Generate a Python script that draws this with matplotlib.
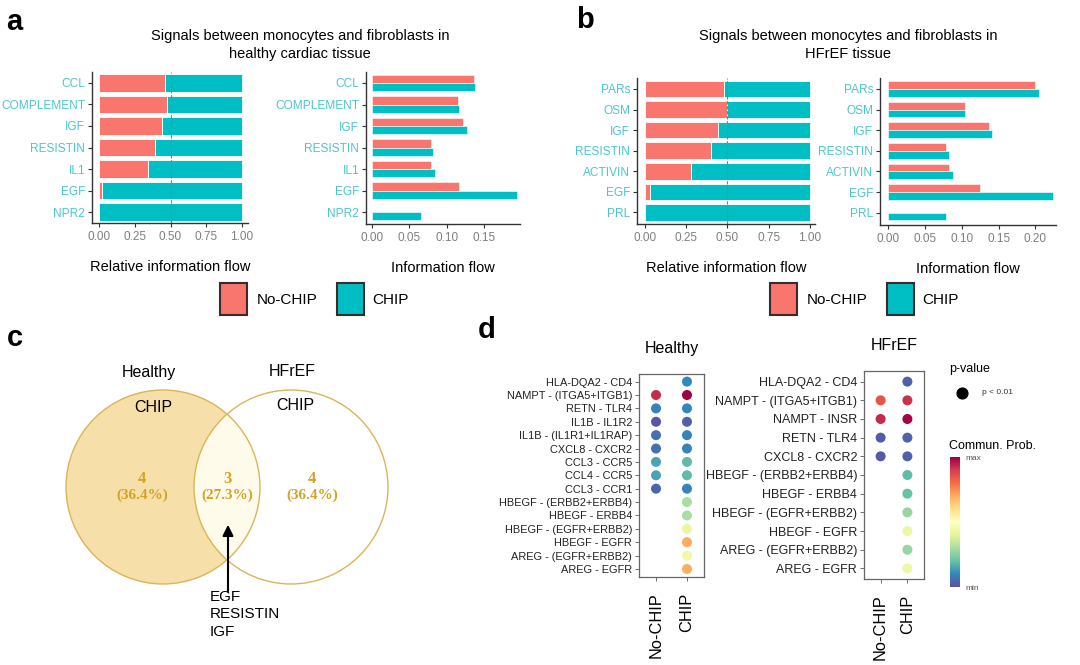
import numpy as np
import matplotlib
matplotlib.use("Agg")
import matplotlib.pyplot as plt
from matplotlib.patches import Circle, Rectangle
from matplotlib.cm import ScalarMappable
from matplotlib.colors import Normalize

plt.rcParams['font.family'] = ['Liberation Sans', 'DejaVu Sans']

W, H = 1080, 665
RED = '#F8766D'
CYAN = '#00BFC4'
TICK_CYAN = '#4CC6CC'

# ---- panel a / b data ----
cats_a = ['CCL', 'COMPLEMENT', 'IGF', 'RESISTIN', 'IL1', 'EGF', 'NPR2']
rel_a = [0.465, 0.479, 0.442, 0.395, 0.344, 0.023, 0.0]
flow_a_nochip = [0.136, 0.115, 0.122, 0.079, 0.079, 0.117, 0.0]
flow_a_chip = [0.138, 0.117, 0.127, 0.081, 0.084, 0.194, 0.066]

cats_b = ['PARs', 'OSM', 'IGF', 'RESISTIN', 'ACTIVIN', 'EGF', 'PRL']
rel_b = [0.481, 0.495, 0.440, 0.400, 0.279, 0.030, 0.0]
flow_b_nochip = [0.200, 0.104, 0.137, 0.079, 0.082, 0.124, 0.0]
flow_b_chip = [0.2045, 0.104, 0.1416, 0.082, 0.088, 0.224, 0.079]

# ---- panel c data ----
venn_sets = ['Healthy', 'HFrEF']
venn_counts = [4, 3, 4]   # only healthy, shared, only HFrEF
shared_signals = ['EGF', 'RESISTIN', 'IGF']

# ---- panel d data (communication probability, scaled 0..1) ----
rows_healthy = ['HLA-DQA2 - CD4', 'NAMPT - (ITGA5+ITGB1)', 'RETN - TLR4', 'IL1B - IL1R2',
                'IL1B - (IL1R1+IL1RAP)', 'CXCL8 - CXCR2', 'CCL3 - CCR5', 'CCL4 - CCR5',
                'CCL3 - CCR1', 'HBEGF - (ERBB2+ERBB4)', 'HBEGF - ERBB4', 'HBEGF - (EGFR+ERBB2)',
                'HBEGF - EGFR', 'AREG - (EGFR+ERBB2)', 'AREG - EGFR']
healthy_nochip = [np.nan, 0.93, 0.09, 0.01, 0.06, 0.06, 0.15, 0.15, 0.04,
                  np.nan, np.nan, np.nan, np.nan, np.nan, np.nan]
healthy_chip = [0.10, 1.00, 0.10, 0.03, 0.09, 0.09, 0.19, 0.19, 0.09,
                0.30, 0.30, 0.42, 0.70, 0.44, 0.70]

rows_hfref = ['HLA-DQA2 - CD4', 'NAMPT - (ITGA5+ITGB1)', 'NAMPT - INSR', 'RETN - TLR4',
              'CXCL8 - CXCR2', 'HBEGF - (ERBB2+ERBB4)', 'HBEGF - ERBB4', 'HBEGF - (EGFR+ERBB2)',
              'HBEGF - EGFR', 'AREG - (EGFR+ERBB2)', 'AREG - EGFR']
hfref_nochip = [np.nan, 0.85, 0.93, 0.02, 0.02, np.nan, np.nan, np.nan, np.nan, np.nan, np.nan]
hfref_chip = [0.03, 0.92, 0.99, 0.03, 0.03, 0.19, 0.20, 0.27, 0.43, 0.27, 0.43]
groups = ['No-CHIP', 'CHIP']


def px_rect(x0, y0, x1, y1):
    # pixel box (top-left origin) -> figure fraction rect
    return [x0 / W, 1 - y1 / H, (x1 - x0) / W, (y1 - y0) / H]


def style_bar_axes(ax, cats, ylim, xlim, xticks, xlabel):
    y = np.arange(len(cats))
    ax.set_ylim(*ylim)
    ax.set_xlim(*xlim)
    ax.set_yticks(y, cats)
    ax.set_xticks(xticks, ['%.2f' % t for t in xticks])
    for s in ['top', 'right']:
        ax.spines[s].set_visible(False)
    for s in ['left', 'bottom']:
        ax.spines[s].set_color('#333333')
        ax.spines[s].set_linewidth(1.0)
    ax.tick_params(axis='both', direction='out', length=3, width=0.8, color='#333333')
    ax.tick_params(axis='y', labelsize=8.6, labelcolor=TICK_CYAN, pad=2)
    ax.tick_params(axis='x', labelsize=8.5, labelcolor='#7F7F7F', pad=3)
    ax.set_xlabel(xlabel, fontsize=10.5, labelpad=12)
    ax.set_facecolor('none')


def rel_bars(rect, cats, frac, ylim, xlim):
    ax = fig.add_axes(px_rect(*rect))
    y = np.arange(len(cats))
    frac = np.array(frac)
    ax.barh(y, frac, height=0.8, color=RED, edgecolor='white', linewidth=0.6)
    ax.barh(y, 1 - frac, left=frac, height=0.8, color=CYAN, edgecolor='white', linewidth=0.6)
    ax.axvline(0.5, color='#7F7F7F', ls=(0, (3, 1.5)), lw=0.8)
    style_bar_axes(ax, cats, ylim, xlim, [0, 0.25, 0.5, 0.75, 1.0], 'Relative information flow')
    return ax


def flow_bars(rect, cats, v1, v2, ylim, xlim, xticks):
    ax = fig.add_axes(px_rect(*rect))
    y = np.arange(len(cats))
    ax.barh(y - 0.19, v1, height=0.38, color=RED, edgecolor='white', linewidth=0.4)
    ax.barh(y + 0.19, v2, height=0.38, color=CYAN, edgecolor='white', linewidth=0.4)
    style_bar_axes(ax, cats, ylim, xlim, xticks, 'Information flow')
    return ax


def dot_panel(rect, rows, nochip, chip, xlim, ylim, fs, title):
    ax = fig.add_axes(px_rect(*rect))
    y = np.arange(len(rows))
    for i, vals in enumerate([nochip, chip]):
        v = np.array(vals, float)
        m = ~np.isnan(v)
        ax.scatter(np.full(m.sum(), i + 1), y[m], c=v[m], cmap='Spectral_r',
                   vmin=0, vmax=1, s=52, edgecolors='none')
    ax.set_xlim(*xlim)
    ax.set_ylim(*ylim)
    ax.set_yticks(y, rows, fontsize=fs, color='#222222')
    ax.set_xticks([1, 2], groups, rotation=90, fontsize=11.8)
    for s in ax.spines.values():
        s.set_color('#666666')
        s.set_linewidth(0.9)
    ax.tick_params(length=3, width=0.6, color='#555555', pad=2)
    ax.tick_params(axis='x', pad=8)
    ax.set_title(title, fontsize=11.5, pad=15)
    return ax


fig = plt.figure(figsize=(W / 100, H / 100), dpi=100)

# panel a
rel_bars((92, 72, 248, 223), cats_a, rel_a, (6.51, -0.51), (-0.049, 1.042))
flow_bars((366, 72, 520, 224), cats_a, flow_a_nochip, flow_a_chip, (6.55, -0.51),
          (-0.008, 0.198), [0, 0.05, 0.10, 0.15])
# panel b
rel_bars((637, 78, 815, 224), cats_b, rel_b, (6.56, -0.53), (-0.048, 1.03))
flow_bars((880, 78, 1056, 225), cats_b, flow_b_nochip, flow_b_chip, (6.6, -0.53),
          (-0.0113, 0.228), [0, 0.05, 0.10, 0.15, 0.20])

# panel d
dot_panel((639, 374, 704, 577), rows_healthy, healthy_nochip, healthy_chip,
          (0.45, 2.55), (14.6, -0.57), 7.9, 'Healthy')
dot_panel((864, 371, 924, 579), rows_hfref, hfref_nochip, hfref_chip,
          (0.38, 2.62), (10.57, -0.57), 9, 'HFrEF')

cax = fig.add_axes(px_rect(950, 457, 960, 587))
cb = fig.colorbar(ScalarMappable(Normalize(0, 1), 'Spectral_r'), cax=cax)
cb.outline.set_visible(False)
cb.set_ticks([0, 1])
cb.set_ticklabels(['min', 'max'])
cax.tick_params(length=0, pad=4, labelsize=6, labelcolor='#555555')

# overlay in pixel coordinates for titles, legends and venn
ov = fig.add_axes([0, 0, 1, 1])
ov.set_xlim(0, W)
ov.set_ylim(H, 0)
ov.axis('off')
ov.set_zorder(-1)

for lab, (x, y) in zip('abcd', [(14, 22), (585, 20), (15, 338), (487, 330)]):
    ov.text(x, y, lab, fontsize=21, fontweight='bold', ha='center', va='center')

ov.text(300, 45, 'Signals between monocytes and fibroblasts in\nhealthy cardiac tissue',
        fontsize=10.5, ha='center', va='center', linespacing=1.45)
ov.text(848, 45, 'Signals between monocytes and fibroblasts in\nHFrEF tissue',
        fontsize=10.5, ha='center', va='center', linespacing=1.45)

for x0 in (220, 770):
    ov.add_patch(Rectangle((x0, 283), 27, 32, facecolor=RED, edgecolor='#3a2a2a', lw=1.5))
    ov.text(x0 + 37, 300, groups[0], fontsize=11, va='center')
    ov.add_patch(Rectangle((x0 + 117, 283), 27, 32, facecolor=CYAN, edgecolor='#3a2a2a', lw=1.5))
    ov.text(x0 + 152, 300, groups[1], fontsize=11, va='center')

# p-value legend
ov.text(949, 369, 'p-value', fontsize=9, va='center')
ov.scatter([962], [393], s=60, color='black')
ov.text(982, 393, 'p < 0.01', fontsize=6, va='center', color='#333333')
ov.text(949, 446, 'Commun. Prob.', fontsize=9, va='center')

# venn (panel c)
EDGE = '#D9B55A'
left = Circle((163, 487), 97, facecolor='#F6DFA8', edgecolor='none')
right = Circle((291, 487), 97, facecolor='white', edgecolor='none')
ov.add_patch(left)
ov.add_patch(right)
lens = Circle((291, 487), 97, facecolor='#FFFBEA', edgecolor='none')
ov.add_patch(lens)
lens.set_clip_path(left)
for c in [(163, 487), (291, 487)]:
    ov.add_patch(Circle(c, 97, facecolor='none', edgecolor=EDGE, lw=1.0))

ov.text(149, 372, venn_sets[0], fontsize=11.5, ha='center', va='center')
ov.text(292, 372, venn_sets[1], fontsize=11.5, ha='center', va='center')
ov.text(153, 407, 'CHIP', fontsize=11.5, ha='center', va='center')
ov.text(295, 405, 'CHIP', fontsize=11.5, ha='center', va='center')
total = sum(venn_counts)
for x, n in zip([142, 227, 312], venn_counts):
    ov.text(x, 479, str(n), fontsize=12, ha='center', va='center', color='#D4A12A',
            fontweight='bold', family='Liberation Serif')
    ov.text(x, 495, '(%.1f%%)' % (100 * n / total), fontsize=11, ha='center', va='center',
            color='#D4A12A', fontweight='bold', family='Liberation Serif')

ov.annotate('', xy=(228, 522), xytext=(228, 594),
            arrowprops=dict(arrowstyle='-|>', color='black', lw=1.5, mutation_scale=16))
ov.text(210, 590, '\n'.join(shared_signals), fontsize=11, ha='left', va='top', linespacing=1.3)

fig.savefig('out.png', dpi=100)
